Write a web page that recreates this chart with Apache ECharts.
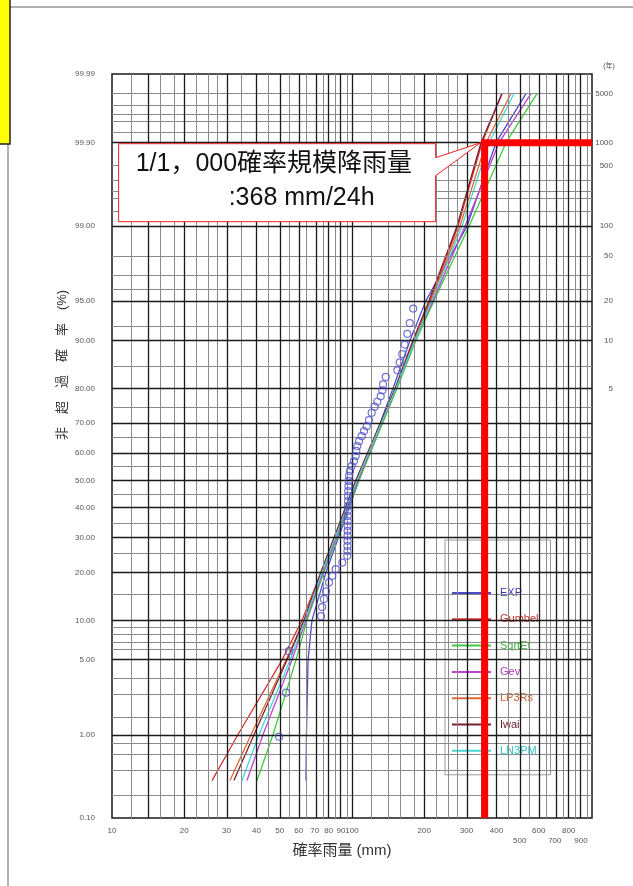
<!DOCTYPE html>
<html><head><meta charset="utf-8">
<script src="https://cdn.jsdelivr.net/npm/echarts@6/dist/echarts.min.js"></script>
<style>html,body{margin:0;padding:0;background:#fff}#c{width:633px;height:886px}</style>
</head><body><div id="c"></div>
<script>
// ---------------- data ----------------
const seriesNames = ['EXP','Gumbel','SqrtEt','Gev','LP3Rs','Iwai','LN3PM'];
const seriesColors = ['#4a4ad0','#d83030','#3ccc3c','#c040d0','#e06830','#7a1f2e','#40d8d8'];
const legendTextColors = ['#3a3ab8','#c83030','#38b838','#b038c0','#d06028','#6a1a28','#30c4c4'];
// non-exceedance probability (%) at which each fitted line is read
const lineProb = [0.3, 1, 5, 10, 20, 50, 80, 90, 95, 99, 99.9, 99.98];
const expMM    = [64.3, 64.6, 65.6, 68.1, 77.9, 106.9, 148.2, 174.5, 203.4, 301.4, 398.1, 530.9];
const gumbelMM = [26.1, 33.5, 51.1, 61.9, 74.3, 103.9, 152.5, 181.3, 211.4, 276.5, 348.1, 421.7];
const sqrtEtMM = [40.2, 46.9, 58.4, 64.9, 76.4, 106.9, 154.0, 184.8, 219.6, 307.3, 438.2, 590.0];
const gevMM    = [36.5, 42.6, 56.2, 64.3, 75.7, 105.9, 152.5, 183.0, 217.5, 295.7, 409.7, 556.9];
const lp3rsMM  = [31.0, 38.0, 53.1, 63.1, 74.3, 104.9, 152.5, 181.3, 213.4, 281.8, 361.7, 459.7];
const iwaiMM   = [32.2, 39.1, 53.6, 63.1, 74.3, 103.9, 151.1, 179.6, 209.3, 273.8, 344.8, 421.7];
const ln3pmMM  = [34.8, 41.0, 55.2, 63.7, 75.0, 104.9, 152.5, 183.0, 215.4, 287.3, 372.3, 473.2];
// observed (plotted) rainfall
const obsMM = [180.0,174.0,170.0,165.8,162.0,158.0,154.5,138.2,134.7,133.8,131.7,127.5,124.3,120.8,117.7,115.2,112.2,
  109.7,107.0,105.2,104.2,103.6,101.9,99.7,98.1,97.2,96.8,96.6,96.4,96.2,96.2,96.1,96.1,96.0,96.0,95.9,95.9,95.8,95.8,
  95.7,95.7,95.6,91.1,85.5,82.8,80.2,77.9,76.4,75.0,74.3,54.6,53.1,49.7];
const obsProb = [94.2,92.5,91.0,89.3,87.6,86.0,84.3,82.8,81.0,79.5,77.9,76.4,75.0,73.2,70.9,69.0,67.4,65.7,64.0,62.3,
  60.6,58.8,57.0,55.2,53.4,51.6,49.8,47.9,46.1,44.3,42.5,40.7,39.0,37.2,35.5,33.8,32.2,30.6,29.0,27.4,25.9,24.5,22.6,
  20.8,19.1,17.5,15.5,13.9,12.3,10.7,5.9,2.6,0.95];
// axis ticks
const yTickProb   = [0.1,1,5,10,20,30,40,50,60,70,80,90,95,99,99.9,99.99];
const yTickLabels = ['0.10','1.00','5.00','10.00','20.00','30.00','40.00','50.00','60.00','70.00','80.00','90.00','95.00','99.00','99.90','99.99'];
const returnPeriods = [5,10,20,50,100,500,1000,5000];
const xTickMM = [10,20,30,40,50,60,70,80,90,100,200,300,400,500,600,700,800,900,1000];
const xTickLowerRow = [500,700,900];
// grid lines
const gridMajorProb = [1,5,10,20,30,40,50,60,70,80,90,95,99,99.9];
const gridMinorProb = [0.2,0.4,0.6,0.8,1.5,2.5,3.5,6,7,8,9,15,25,35,45,55,65,75,85,92,96,97,98,
  99.3,99.5,99.6,99.7,99.8,99.93,99.95,99.96,99.97,99.98];
const gridMajorMM = [14,20,30,40,50,60,70,80,90,100,200,300,400,500,600,700,800,900];
const gridMinorMM = [12,16,18,22.5,25,27.5,35,45,55,65,75,85,95,120,140,160,180,225,250,275,350,
  450,550,650,750,850,950];
// design rainfall (1/1000)
const designRain = 357, designProb = 99.9;
const calloutLine1 = '1/1，000確率規模降雨量';
const calloutLine2 = ':368 mm/24h';

// ---------------- scales ----------------
function qnorm(p){
  const a=[-3.969683028665376e+01,2.209460984245205e+02,-2.759285104469687e+02,1.383577518672690e+02,-3.066479806614716e+01,2.506628277459239e+00];
  const b=[-5.447609879822406e+01,1.615858368580409e+02,-1.556989798598866e+02,6.680131188771972e+01,-1.328068155288572e+01];
  const c=[-7.784894002430293e-03,-3.223964580411365e-01,-2.400758277161838e+00,-2.549732539343734e+00,4.374664141464968e+00,2.938163982698783e+00];
  const d=[7.784695709041462e-03,3.224671290700398e-01,2.445134137142996e+00,3.754408661907416e+00];
  const pl=0.02425; let q,r;
  if(p<pl){q=Math.sqrt(-2*Math.log(p));return (((((c[0]*q+c[1])*q+c[2])*q+c[3])*q+c[4])*q+c[5])/((((d[0]*q+d[1])*q+d[2])*q+d[3])*q+1);}
  if(p<=1-pl){q=p-0.5;r=q*q;return (((((a[0]*r+a[1])*r+a[2])*r+a[3])*r+a[4])*r+a[5])*q/(((((b[0]*r+b[1])*r+b[2])*r+b[3])*r+b[4])*r+1);}
  q=Math.sqrt(-2*Math.log(1-p));return -(((((c[0]*q+c[1])*q+c[2])*q+c[3])*q+c[4])*q+c[5])/((((d[0]*q+d[1])*q+d[2])*q+d[3])*q+1);
}
const Z = pct => qnorm(pct/100);
const LX = mm => Math.log10(mm);
function nearestIdx(arr, v){let bi=0,bd=1e9;arr.forEach((a,i)=>{const d=Math.abs(a-v);if(d<bd){bd=d;bi=i;}});return bi;}

const yTickZ = yTickProb.map(Z);
const rpZ = returnPeriods.map(T => Z(100 - 100/T));
const xTickL = xTickMM.map(LX);

const lineData = [expMM,gumbelMM,sqrtEtMM,gevMM,lp3rsMM,iwaiMM,ln3pmMM];
const font = 'Liberation Sans, Noto Sans CJK JP, sans-serif';
const labelStyle = {fontSize:8, color:'#555', fontFamily:font};

const series = [];
series.push({
  type:'line', data:[], z:1, silent:true,
  markLine:{symbol:'none', silent:true, animation:false, label:{show:false},
    lineStyle:{type:'solid', color:'#8a8a8a', width:1},
    emphasis:{disabled:true},
    data: gridMinorProb.map(p=>({yAxis:Z(p)})).concat(gridMinorMM.map(m=>({xAxis:LX(m)})))}
});
series.push({
  type:'line', data:[], z:1, silent:true,
  markLine:{symbol:'none', silent:true, animation:false, label:{show:false},
    lineStyle:{type:'solid', color:'#1a1a1a', width:1.3},
    emphasis:{disabled:true},
    data: gridMajorProb.map(p=>({yAxis:Z(p)})).concat(gridMajorMM.map(m=>({xAxis:LX(m)})))}
});
seriesNames.forEach((n,i)=>{
  series.push({name:n, type:'line', z:4, showSymbol:false, symbol:'none', silent:true,
    lineStyle:{color:seriesColors[i], width:1.3}, itemStyle:{color:seriesColors[i]},
    data: lineData[i].map((m,k)=>[LX(m), Z(lineProb[k])])});
});
series.push({type:'scatter', z:5, symbol:'circle', symbolSize:7, silent:true,
  itemStyle:{color:'rgba(0,0,0,0)', borderColor:'#5050c8', borderWidth:1.2},
  data: obsMM.map((m,i)=>[LX(m), Z(obsProb[i])])});
series.push({type:'line', z:10, symbol:'none', silent:true,
  lineStyle:{color:'#ff0000', width:7, cap:'butt', join:'miter'},
  data:[[LX(designRain), Z(0.1)],[LX(designRain), Z(designProb)],[LX(1000), Z(designProb)]]});

const chart = echarts.init(document.getElementById('c'));
const option = {
  animation:false,
  backgroundColor:'#fff',
  grid:{left:112, right:41, top:74, bottom:68, show:true, borderColor:'#1a1a1a', borderWidth:1.5, backgroundColor:'rgba(0,0,0,0)'},
  xAxis:{type:'value', min:1, max:3,
    axisLine:{show:false}, axisTick:{show:false}, splitLine:{show:false},
    axisLabel:Object.assign({customValues:xTickL, margin:8, lineHeight:10,
      formatter:v=>{const m=xTickMM[nearestIdx(xTickL,v)];return (xTickLowerRow.indexOf(m)>=0?'\n':'')+m;}}, labelStyle)},
  yAxis:[
    {type:'value', min:Z(0.1), max:Z(99.99),
      axisLine:{show:false}, axisTick:{show:false}, splitLine:{show:false},
      axisLabel:Object.assign({customValues:yTickZ, margin:17,
        formatter:v=>yTickLabels[nearestIdx(yTickZ,v)]}, labelStyle)},
    {type:'value', position:'right', min:Z(0.1), max:Z(99.99),
      axisLine:{show:false}, axisTick:{show:false}, splitLine:{show:false},
      axisLabel:Object.assign({customValues:rpZ, margin:21, align:'right',
        formatter:v=>String(returnPeriods[nearestIdx(rpZ,v)])}, labelStyle)}
  ],
  legend:{orient:'vertical', left:445, top:540, padding:[47,12,18,7], itemWidth:39, itemHeight:2, itemGap:14.3,
    icon:'rect', backgroundColor:'#fff', borderColor:'#999', borderWidth:1, selectedMode:false,
    textStyle:{fontSize:11, lineHeight:12, fontFamily:font, padding:[0,0,0,4]},
    data: seriesNames.map((n,i)=>({name:n, textStyle:{color:legendTextColors[i]}}))},
  series: series
};
chart.setOption(option);

// annotation anchored to the design-rainfall point
const tip = chart.convertToPixel({gridIndex:0}, [LX(designRain), Z(designProb)]);
const tx = tip[0]-4, ty = tip[1];
const bl = tx-362, br = tx-45, bt = ty+1, bb = ty+79;
chart.setOption({graphic:[
  {type:'rect', z:100, shape:{x:8, y:7, width:700, height:900}, style:{fill:'none', stroke:'#999', lineWidth:1.5}},
  {type:'rect', z:100, shape:{x:-5, y:-5, width:15, height:149}, style:{fill:'#ffff00', stroke:'#222', lineWidth:1.5}},
  {type:'polygon', z:100, shape:{points:[[bl,bt],[br,bt],[br,ty+15],[tx,ty],[br,ty+33],[br,bb],[bl,bb]]},
    style:{fill:'#fff', stroke:'#ee2020', lineWidth:1}},
  {type:'text', z:101, x:bl+17, y:ty+21, style:{text:calloutLine1, fontSize:25, fontFamily:font, fill:'#111', verticalAlign:'middle'}},
  {type:'text', z:101, x:bl+110, y:ty+55, style:{text:calloutLine2, fontSize:25, fontFamily:font, fill:'#111', verticalAlign:'middle'}},
  {type:'text', z:100, x:62, y:365, rotation:Math.PI/2, style:{text:'非　超　過　確　率　(%)', fontSize:13, fontFamily:font, fill:'#333', align:'center', verticalAlign:'middle'}},
  {type:'text', z:100, x:342, y:851, style:{text:'確率雨量 (mm)', fontSize:15, fontFamily:font, fill:'#333', align:'center', verticalAlign:'middle'}},
  {type:'text', z:100, x:609, y:66, style:{text:'(年)', fontSize:7, fontFamily:font, fill:'#555', align:'center', verticalAlign:'middle'}}
]});
</script></body></html>
